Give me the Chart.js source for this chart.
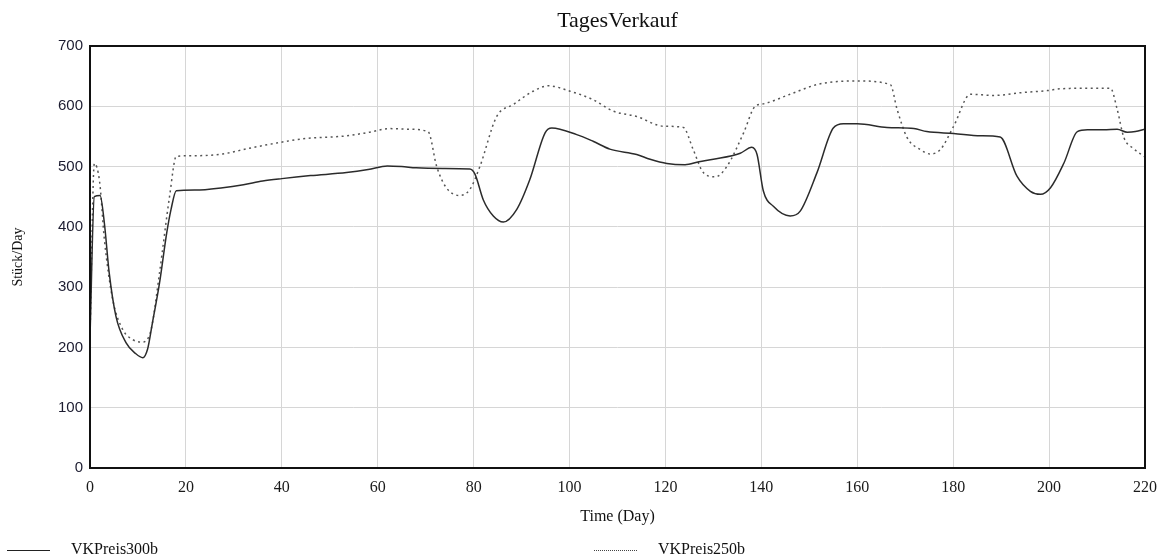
<!DOCTYPE html>
<html>
<head>
<meta charset="utf-8">
<script src="https://cdn.jsdelivr.net/npm/chart.js@4.4.1/dist/chart.umd.min.js"></script>
<style>
  html, body { margin: 0; padding: 0; background: #fff; }
  #wrap { position: relative; width: 1163px; height: 556px; }
  #legend { position: absolute; left: 0; top: 540px; width: 1163px; height: 18px;
            font: 16px "Liberation Serif", serif; color: #111; }
  .item { position: absolute; top: 0; line-height: 18px; white-space: nowrap; }
  .swatch { display: inline-block; width: 43px; vertical-align: middle; margin-right: 21px; }
</style>
</head>
<body>
<div id="wrap">
  <canvas id="chart" width="1163" height="556"></canvas>
  <div id="legend">
    <div class="item" style="left:7px"><span class="swatch" style="border-top:1.5px solid #222"></span>VKPreis300b</div>
    <div class="item" style="left:594px"><span class="swatch" style="border-top:1.5px dotted #444"></span>VKPreis250b</div>
  </div>
</div>
<script>
// Werte
const days300 = [0, 0.9, 2.1, 3, 4, 5.4, 7.5, 9.5, 11, 12, 13, 14.5, 16, 16.9, 18, 22, 27.7, 32, 36, 40,
  46, 53.5, 58, 62, 65, 68, 73.6, 79.2, 80.3, 82, 84.1, 86.2, 89, 91.7, 94.9, 96.3, 101.5, 104.9, 108.4,
  114, 116.8, 120.3, 124.1, 127, 130, 135.6, 138, 139.1, 140.4, 142.5, 146, 148.1, 151.6, 155, 157.1, 160,
  166.2, 171.8, 174.5, 180.1, 185.7, 189.8, 193.3, 196.1, 198.2, 200.3, 203.1, 205.9, 208, 211.4, 214.2,
  216.3, 218, 220];
const vk300 = [218, 450, 452, 406, 324, 252, 208, 190, 183, 197, 240, 307, 390, 429, 460, 461, 465, 470, 476, 480,
  485, 490, 495, 501, 500, 498, 497, 496, 487, 445, 418, 408, 429, 478, 556, 564, 553, 542, 529,
  520, 512, 505, 503, 508, 512, 522, 532, 520, 460, 434, 418, 426, 490, 564, 571, 571,
  565, 563, 558, 555, 551, 549, 484, 459, 454, 465, 506, 558, 561, 561, 562,
  557, 558, 562];

const days250 = [0, 0.9, 2, 3, 4.75, 6.8, 8.9, 11, 12.75, 14.5, 16.6, 18, 22, 27.7, 33, 37.5, 44.4, 53.5, 58.3,
  62.5, 66, 70.5, 72.3, 74.3, 77.1, 79.2, 81.3, 84.8, 88.3, 92.4, 95.6, 100.1, 104.9, 109.1, 114, 119.6,
  123.7, 125.8, 127.9, 130.4, 132.8, 136.3, 138.7, 140.4, 146, 151.6, 155.8, 160, 166.9, 168.3, 170.4,
  173.2, 175.2, 177.3, 180.1, 183.6, 188.5, 194.7, 199.6, 202.4, 208.6, 212.8, 214.2, 215.6, 217.4, 220];
const vk250 = [218, 505, 475, 379, 279, 230, 213, 209, 230, 324, 451, 517, 518, 521, 530, 537, 546, 551, 557,
  563, 562, 558, 500, 465, 452, 462, 500, 583, 603, 625, 634, 625, 611, 592, 583, 567,
  565, 528, 490, 483, 500, 556, 600, 604, 620, 636, 641, 642, 636, 595, 548,
  528, 521, 528, 567, 620, 618, 623, 626, 629, 630, 630, 595, 548, 531, 516];

const xTicks = [0, 20, 40, 60, 80, 100, 120, 140, 160, 180, 200, 220];
const yTicks = [0, 100, 200, 300, 400, 500, 600, 700];

function toPoints(xs, ys) {
  return xs.map((x, i) => ({ x, y: ys[i] }));
}

// Rahmen um die Zeichenfläche
const frame = {
  id: "frame",
  afterDatasetsDraw(chart) {
    const { ctx, chartArea: a } = chart;
    ctx.save();
    ctx.strokeStyle = "#111";
    ctx.lineWidth = 2;
    ctx.strokeRect(a.left, a.top, a.right - a.left, a.bottom - a.top);
    ctx.restore();
  },
};

new Chart(document.getElementById("chart"), {
  type: "line",
  data: {
    datasets: [
      {
        label: "VKPreis300b",
        data: toPoints(days300, vk300),
        borderColor: "#2b2b2b",
        borderWidth: 1.5,
        pointRadius: 0,
        cubicInterpolationMode: "monotone",
      },
      {
        label: "VKPreis250b",
        data: toPoints(days250, vk250),
        borderColor: "#555",
        borderWidth: 1.5,
        borderDash: [2, 3.5],
        pointRadius: 0,
        cubicInterpolationMode: "monotone",
      },
    ],
  },
  options: {
    responsive: false,
    animation: false,
    layout: { padding: { right: 18, bottom: 26 } },
    plugins: {
      legend: { display: false },
      tooltip: { enabled: false },
      title: {
        display: true,
        fullSize: false,
        text: "TagesVerkauf",
        color: "#111",
        font: { family: "Liberation Serif", size: 22, weight: "normal" },
        padding: { top: 8, bottom: 11.6 },
      },
    },
    scales: {
      x: {
        type: "linear",
        min: 0,
        max: 220,
        afterBuildTicks: (s) => { s.ticks = xTicks.map((v) => ({ value: v })); },
        afterFit: (s) => { s.height = 62; s.paddingLeft = 0; s.paddingRight = 0; },
        grid: { color: "#d6d6d6", lineWidth: 1, drawTicks: false },
        border: { display: false },
        ticks: {
          color: "#1a1a1a",
          padding: 10,
          maxRotation: 0,
          font: { family: "Liberation Serif", size: 16 },
        },
        title: {
          display: true,
          text: "Time (Day)",
          color: "#111",
          font: { family: "Liberation Serif", size: 16 },
          padding: { top: 4, bottom: 4 },
        },
      },
      y: {
        min: 0,
        max: 700,
        afterBuildTicks: (s) => { s.ticks = yTicks.map((v) => ({ value: v })); },
        afterFit: (s) => { s.width = 90; },
        grid: { color: "#d6d6d6", lineWidth: 1, drawTicks: false },
        border: { display: false },
        ticks: {
          color: "#1c1c30",
          padding: 7,
          font: { family: "Liberation Sans", size: 15 },
        },
        title: {
          display: true,
          text: "Stück/Day",
          color: "#111",
          font: { family: "Liberation Serif", size: 14 },
          padding: { top: 10, bottom: 0 },
        },
      },
    },
  },
  plugins: [frame],
});
</script>
</body>
</html>
